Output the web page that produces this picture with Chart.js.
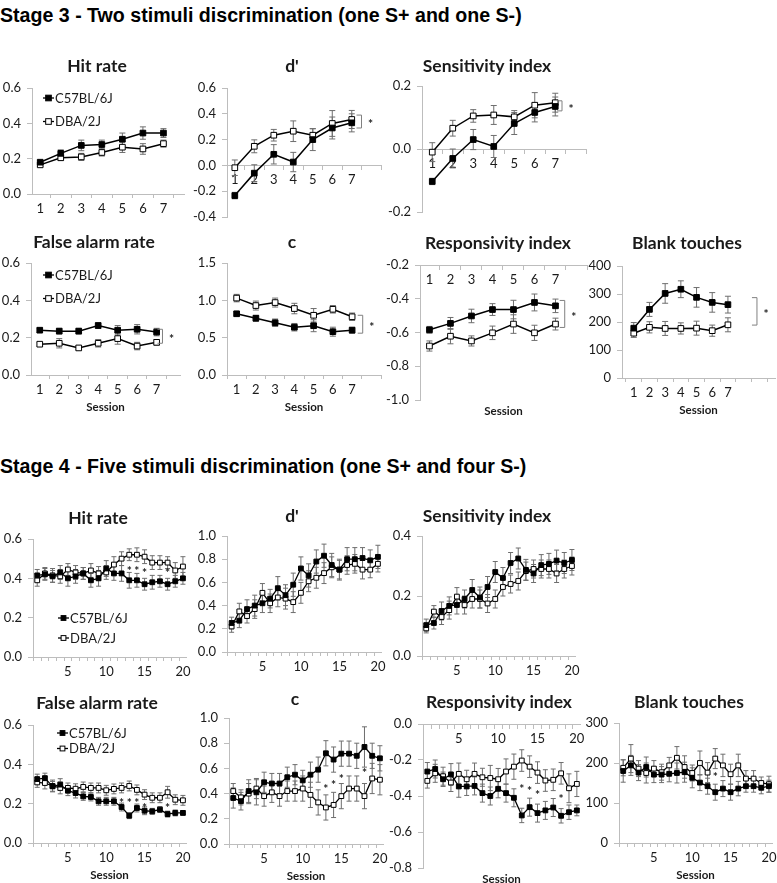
<!DOCTYPE html>
<html>
<head>
<meta charset="utf-8">
<script src="https://cdn.jsdelivr.net/npm/chart.js@4.4.1/dist/chart.umd.min.js"></script>
<style>
  body { margin: 0; width: 777px; height: 883px; position: relative; overflow: hidden; background: #fff; }
  .hdr { position: absolute; left: 0; font: bold 19.6px "Liberation Sans", Arial, sans-serif; line-height: 22px; color: #000; white-space: nowrap; }
  canvas { position: absolute; }
</style>
</head>
<body>
<div class="hdr" style="top:4px">Stage 3 - Two stimuli discrimination (one S+ and one S-)</div>
<div class="hdr" style="top:455px">Stage 4 - Five stimuli discrimination (one S+ and four S-)</div>
<script>
// sessions and strains
const sessions3 = [1, 2, 3, 4, 5, 6, 7];
const sessions4 = [1, 2, 3, 4, 5, 6, 7, 8, 9, 10, 11, 12, 13, 14, 15, 16, 17, 18, 19, 20];
const strainNames = ['C57BL/6J', 'DBA/2J'];

// tick labels
const yTicksRate = [0, 0.2, 0.4, 0.6];
const yTicksD3 = [-0.4, -0.2, 0, 0.2, 0.4, 0.6];
const yTicksSens3 = [-0.2, 0, 0.2];
const yTicksC3 = [0, 0.5, 1, 1.5];
const yTicksResp3 = [-1, -0.8, -0.6, -0.4, -0.2];
const yTicksBlank3 = [0, 100, 200, 300, 400];
const yTicksUnit = [0, 0.2, 0.4, 0.6, 0.8, 1];
const yTicksSens4 = [0, 0.2, 0.4];
const yTicksResp4 = [-0.8, -0.6, -0.4, -0.2, 0];
const yTicksBlank4 = [0, 100, 200, 300];
const xLabels3 = [1, 2, 3, 4, 5, 6, 7];
const xLabels4 = [5, 10, 15, 20];

// ---- Stage 3 (mean, sem) ----
const hit3C57 = [0.18, 0.23, 0.275, 0.28, 0.31, 0.345, 0.345];
const hit3C57Sem = [0.01, 0.02, 0.03, 0.025, 0.035, 0.035, 0.025];
const hit3DBA = [0.165, 0.205, 0.21, 0.235, 0.265, 0.255, 0.285];
const hit3DBASem = [0.01, 0.015, 0.02, 0.02, 0.03, 0.03, 0.02];

const d3C57 = [-0.234, -0.06, 0.086, 0.026, 0.2, 0.29, 0.33];
const d3C57Sem = [0.025, 0.065, 0.075, 0.075, 0.085, 0.085, 0.07];
const d3DBA = [-0.018, 0.148, 0.234, 0.265, 0.234, 0.325, 0.356];
const d3DBASem = [0.06, 0.05, 0.045, 0.08, 0.05, 0.1, 0.07];

const sens3C57 = [-0.103, -0.03, 0.03, 0.008, 0.081, 0.116, 0.135];
const sens3C57Sem = [0.01, 0.03, 0.032, 0.035, 0.035, 0.03, 0.03];
const sens3DBA = [-0.01, 0.066, 0.105, 0.108, 0.102, 0.139, 0.147];
const sens3DBASem = [0.03, 0.025, 0.02, 0.03, 0.02, 0.04, 0.03];

const fa3C57 = [0.24, 0.235, 0.235, 0.265, 0.24, 0.245, 0.23];
const fa3C57Sem = [0.012, 0.015, 0.015, 0.015, 0.025, 0.025, 0.02];
const fa3DBA = [0.165, 0.17, 0.145, 0.17, 0.195, 0.155, 0.175];
const fa3DBASem = [0.01, 0.025, 0.01, 0.02, 0.03, 0.02, 0.015];

const c3C57 = [0.82, 0.76, 0.70, 0.64, 0.66, 0.58, 0.60];
const c3C57Sem = [0.03, 0.04, 0.05, 0.05, 0.08, 0.06, 0.04];
const c3DBA = [1.03, 0.93, 0.97, 0.89, 0.80, 0.88, 0.78];
const c3DBASem = [0.05, 0.06, 0.06, 0.07, 0.09, 0.05, 0.05];

const resp3C57 = [-0.584, -0.546, -0.502, -0.464, -0.464, -0.422, -0.442];
const resp3C57Sem = [0.02, 0.035, 0.04, 0.035, 0.055, 0.05, 0.04];
const resp3DBA = [-0.68, -0.622, -0.65, -0.602, -0.55, -0.602, -0.55];
const resp3DBASem = [0.03, 0.045, 0.03, 0.04, 0.055, 0.045, 0.035];

const blank3C57 = [178, 245, 302, 317, 288, 270, 262];
const blank3C57Sem = [20, 25, 35, 30, 35, 35, 30];
const blank3DBA = [160, 181, 177, 177, 178, 169, 190];
const blank3DBASem = [15, 20, 25, 20, 25, 20, 25];

// significance brackets: [session pos, top, bottom]
const d3Bracket = [7.5, 0.39, 0.29];
const sens3Bracket = [7.33, 0.153, 0.121];
const fa3Bracket = [7.3, 0.245, 0.17];
const c3Bracket = [7.55, 0.8, 0.56];
const resp3Bracket = [7.44, -0.41, -0.57];
const blank3Bracket = [8.85, 287, 189];

// ---- Stage 4 (mean, sem) ----
const hit4C57 = [0.415, 0.42, 0.41, 0.43, 0.40, 0.41, 0.425, 0.39, 0.40, 0.45, 0.425, 0.425, 0.39, 0.39, 0.37, 0.38, 0.385, 0.37, 0.385, 0.40];
const hit4C57Sem = [0.03, 0.03, 0.03, 0.035, 0.04, 0.035, 0.03, 0.035, 0.04, 0.04, 0.035, 0.04, 0.04, 0.035, 0.03, 0.035, 0.03, 0.03, 0.03, 0.03];
const hit4DBA = [0.39, 0.425, 0.415, 0.41, 0.445, 0.43, 0.425, 0.44, 0.425, 0.43, 0.47, 0.50, 0.52, 0.52, 0.51, 0.48, 0.48, 0.48, 0.44, 0.46];
const hit4DBASem = [0.03, 0.03, 0.035, 0.035, 0.03, 0.035, 0.03, 0.035, 0.035, 0.035, 0.04, 0.035, 0.03, 0.035, 0.035, 0.035, 0.035, 0.03, 0.04, 0.05];

const d4C57 = [0.25, 0.27, 0.37, 0.40, 0.42, 0.46, 0.55, 0.49, 0.58, 0.72, 0.66, 0.78, 0.83, 0.75, 0.71, 0.80, 0.80, 0.81, 0.79, 0.82];
const d4C57Sem = [0.05, 0.06, 0.08, 0.09, 0.08, 0.08, 0.1, 0.09, 0.1, 0.1, 0.1, 0.1, 0.1, 0.1, 0.09, 0.1, 0.1, 0.09, 0.09, 0.1];
const d4DBA = [0.22, 0.35, 0.31, 0.37, 0.51, 0.42, 0.47, 0.46, 0.43, 0.51, 0.61, 0.64, 0.68, 0.73, 0.71, 0.75, 0.76, 0.71, 0.71, 0.76];
const d4DBASem = [0.05, 0.07, 0.06, 0.08, 0.08, 0.08, 0.08, 0.09, 0.09, 0.09, 0.09, 0.09, 0.09, 0.09, 0.08, 0.08, 0.08, 0.08, 0.07, 0.07];

const sens4C57 = [0.103, 0.11, 0.15, 0.167, 0.17, 0.19, 0.22, 0.195, 0.23, 0.28, 0.26, 0.31, 0.325, 0.287, 0.275, 0.303, 0.307, 0.318, 0.31, 0.32];
const sens4C57Sem = [0.02, 0.02, 0.03, 0.03, 0.03, 0.03, 0.035, 0.035, 0.035, 0.035, 0.035, 0.035, 0.035, 0.035, 0.03, 0.035, 0.035, 0.035, 0.035, 0.035];
const sens4DBA = [0.092, 0.148, 0.13, 0.153, 0.198, 0.17, 0.19, 0.19, 0.175, 0.19, 0.23, 0.24, 0.25, 0.283, 0.29, 0.29, 0.29, 0.275, 0.29, 0.30];
const sens4DBASem = [0.015, 0.02, 0.025, 0.03, 0.03, 0.03, 0.03, 0.03, 0.03, 0.03, 0.03, 0.03, 0.03, 0.03, 0.03, 0.03, 0.03, 0.03, 0.03, 0.03];

const fa4C57 = [0.325, 0.33, 0.288, 0.297, 0.266, 0.254, 0.237, 0.234, 0.212, 0.212, 0.212, 0.183, 0.139, 0.178, 0.164, 0.161, 0.17, 0.147, 0.153, 0.153];
const fa4C57Sem = [0.025, 0.025, 0.025, 0.03, 0.025, 0.025, 0.02, 0.02, 0.02, 0.02, 0.02, 0.02, 0.015, 0.02, 0.02, 0.015, 0.015, 0.015, 0.015, 0.01];
const fa4DBA = [0.308, 0.305, 0.29, 0.28, 0.28, 0.276, 0.285, 0.28, 0.28, 0.268, 0.275, 0.28, 0.29, 0.27, 0.246, 0.23, 0.23, 0.258, 0.22, 0.217];
const fa4DBASem = [0.025, 0.03, 0.03, 0.03, 0.025, 0.025, 0.025, 0.025, 0.025, 0.025, 0.025, 0.025, 0.025, 0.025, 0.025, 0.025, 0.025, 0.03, 0.025, 0.025];

const c4C57 = [0.365, 0.34, 0.42, 0.41, 0.49, 0.48, 0.48, 0.53, 0.55, 0.505, 0.55, 0.59, 0.72, 0.67, 0.717, 0.717, 0.70, 0.77, 0.70, 0.68];
const c4C57Sem = [0.08, 0.07, 0.09, 0.1, 0.08, 0.08, 0.08, 0.08, 0.08, 0.08, 0.1, 0.1, 0.1, 0.1, 0.1, 0.1, 0.1, 0.16, 0.1, 0.1];
const c4DBA = [0.42, 0.37, 0.40, 0.44, 0.38, 0.41, 0.38, 0.42, 0.42, 0.44, 0.39, 0.33, 0.29, 0.31, 0.38, 0.44, 0.44, 0.38, 0.52, 0.51];
const c4DBASem = [0.06, 0.06, 0.08, 0.08, 0.08, 0.08, 0.08, 0.08, 0.08, 0.1, 0.1, 0.1, 0.1, 0.1, 0.1, 0.1, 0.1, 0.1, 0.12, 0.12];

const resp4C57 = [-0.264, -0.25, -0.307, -0.28, -0.347, -0.347, -0.344, -0.384, -0.40, -0.36, -0.384, -0.41, -0.508, -0.462, -0.495, -0.48, -0.464, -0.51, -0.49, -0.48];
const resp4C57Sem = [0.05, 0.05, 0.04, 0.06, 0.06, 0.05, 0.05, 0.05, 0.05, 0.05, 0.05, 0.05, 0.04, 0.05, 0.05, 0.05, 0.05, 0.04, 0.04, 0.03];
const resp4DBA = [-0.316, -0.274, -0.29, -0.325, -0.277, -0.307, -0.277, -0.296, -0.30, -0.307, -0.264, -0.237, -0.203, -0.237, -0.27, -0.314, -0.31, -0.274, -0.357, -0.333];
const resp4DBASem = [0.04, 0.05, 0.05, 0.05, 0.06, 0.05, 0.06, 0.05, 0.07, 0.06, 0.07, 0.07, 0.06, 0.06, 0.06, 0.06, 0.06, 0.06, 0.08, 0.07];

const blank4C57 = [180, 194, 176, 190, 171, 171, 173, 175, 177, 163, 151, 142, 127, 136, 127, 136, 142, 142, 138, 142];
const blank4C57Sem = [28, 25, 20, 25, 20, 20, 20, 25, 25, 25, 20, 20, 20, 20, 20, 18, 15, 15, 15, 15];
const blank4DBA = [188, 211, 186, 175, 186, 177, 194, 213, 190, 175, 200, 176, 211, 194, 172, 194, 161, 161, 150, 147];
const blank4DBASem = [20, 35, 20, 25, 20, 20, 20, 28, 28, 20, 30, 25, 25, 28, 25, 28, 20, 20, 15, 20];

// asterisks (session, value)
const hit4StarSessions = [13, 14, 15, 18];
const hit4StarY = [0.452, 0.452, 0.44, 0.44];
const fa4StarSessions = [12, 13, 14, 15, 18];
const fa4StarY = [0.22, 0.22, 0.22, 0.195, 0.195];
const c4StarSessions = [13, 14, 15, 18];
const c4StarY = [0.46, 0.49, 0.54, 0.59];
const resp4StarSessions = [13, 14, 15, 18];
const resp4StarY = [-0.347, -0.357, -0.38, -0.40];
const blank4StarSessions = [13];
const blank4StarY = [172];

const AXIS = '#bdbdbd';
const TXT = '#1a1a1a';

// error bars, brackets, stars, titles and legends
const extras = {
  id: 'extras',
  beforeDatasetsDraw(chart, args, o) {
    const ctx = chart.ctx, ys = chart.scales.y;
    ctx.save();
    ctx.strokeStyle = '#6e6e6e';
    ctx.lineWidth = 1;
    chart.data.datasets.forEach((ds, i) => {
      chart.getDatasetMeta(i).data.forEach((pt, j) => {
        const v = ds.data[j].y, e = ds.sem[j];
        const y1 = ys.getPixelForValue(v + e), y2 = ys.getPixelForValue(v - e);
        ctx.beginPath();
        ctx.moveTo(pt.x, y1); ctx.lineTo(pt.x, y2);
        ctx.moveTo(pt.x - o.cap, y1); ctx.lineTo(pt.x + o.cap, y1);
        ctx.moveTo(pt.x - o.cap, y2); ctx.lineTo(pt.x + o.cap, y2);
        ctx.stroke();
      });
    });
    ctx.restore();
  },
  afterDraw(chart, args, o) {
    const ctx = chart.ctx, xs = chart.scales.x, ys = chart.scales.y, a = chart.chartArea;
    ctx.save();
    ctx.fillStyle = TXT;
    ctx.textAlign = 'center';
    ctx.textBaseline = 'middle';
    ctx.font = 'bold 17.5px Lato';
    ctx.fillText(o.title, o.titleAt[0] - o.ox, o.titleAt[1] - o.oy);
    if (o.sessionY) {
      ctx.font = 'bold 11.5px Lato';
      ctx.fillText('Session', (a.left + a.right) / 2, o.sessionY - o.oy);
    }
    if (o.bracket) {
      const bx = xs.getPixelForValue(o.bracket[0]);
      const y1 = ys.getPixelForValue(o.bracket[1]), y2 = ys.getPixelForValue(o.bracket[2]);
      ctx.strokeStyle = '#808080';
      ctx.lineWidth = 1;
      ctx.beginPath();
      ctx.moveTo(bx - 5, y1); ctx.lineTo(bx, y1); ctx.lineTo(bx, y2); ctx.lineTo(bx - 5, y2);
      ctx.stroke();
      ctx.font = 'bold 12px Lato';
      ctx.fillText('*', bx + 9, (y1 + y2) / 2 + 3);
    }
    if (o.stars) {
      ctx.font = 'bold 12px Lato';
      o.stars[0].forEach((s, i) => {
        ctx.fillText('*', xs.getPixelForValue(s), ys.getPixelForValue(o.stars[1][i]) + 3);
      });
    }
    if (o.legend) {
      const [lx, ly, dy] = o.legend;
      ctx.font = '13px Lato';
      ctx.textAlign = 'left';
      strainNames.forEach((name, i) => {
        const x0 = lx - o.ox, y = ly + i * dy - o.oy, m = o.marker;
        ctx.strokeStyle = '#000';
        ctx.lineWidth = 1.3;
        ctx.beginPath(); ctx.moveTo(x0, y); ctx.lineTo(x0 + 11, y); ctx.stroke();
        ctx.fillStyle = i === 0 ? '#000' : '#fff';
        ctx.lineWidth = 1;
        ctx.fillRect(x0 + 5.5 - m / 2, y - m / 2, m, m);
        ctx.strokeRect(x0 + 5.5 - m / 2, y - m / 2, m, m);
        ctx.fillStyle = TXT;
        ctx.fillText(name, x0 + 12, y + 0.5);
      });
    }
    ctx.restore();
  }
};

const panels = [
  { title: 'Hit rate', titleAt: [97, 66], plot: [32, 88, 184, 194], xr: [0.6, 8.0], yt: yTicksRate, dec: 1,
    xs: sessions3, c57: hit3C57, c57Sem: hit3C57Sem, dba: hit3DBA, dbaSem: hit3DBASem, legend: [43, 98, 23.5] },
  { title: "d'", titleAt: [292, 66], plot: [227, 88, 381, 217], xr: [0.6, 8.5], yt: yTicksD3, dec: 1, xAt: 0,
    xs: sessions3, c57: d3C57, c57Sem: d3C57Sem, dba: d3DBA, dbaSem: d3DBASem, bracket: d3Bracket },
  { title: 'Sensitivity index', titleAt: [487, 66], plot: [422, 86, 586, 212], xr: [0.5, 8.5], yt: yTicksSens3, dec: 1, xAt: 0,
    xs: sessions3, c57: sens3C57, c57Sem: sens3C57Sem, dba: sens3DBA, dbaSem: sens3DBASem, bracket: sens3Bracket },
  { title: 'False alarm rate', titleAt: [94, 242], plot: [31, 263, 180, 375], xr: [0.55, 8.2], yt: yTicksRate, dec: 1,
    xs: sessions3, c57: fa3C57, c57Sem: fa3C57Sem, dba: fa3DBA, dbaSem: fa3DBASem, legend: [43, 275, 23.5], sessionY: 407, bracket: fa3Bracket },
  { title: 'c', titleAt: [292, 242], plot: [227, 263, 381, 375], xr: [0.5, 8.5], yt: yTicksC3, dec: 1,
    xs: sessions3, c57: c3C57, c57Sem: c3C57Sem, dba: c3DBA, dbaSem: c3DBASem, sessionY: 407, bracket: c3Bracket },
  { title: 'Responsivity index', titleAt: [498, 243], plot: [420, 265, 587, 400], xr: [0.55, 8.5], yt: yTicksResp3, dec: 1, xAt: -0.2,
    xs: sessions3, c57: resp3C57, c57Sem: resp3C57Sem, dba: resp3DBA, dbaSem: resp3DBASem, sessionY: 411, bracket: resp3Bracket },
  { title: 'Blank touches', titleAt: [687, 243], plot: [622, 266, 775, 378], xr: [0.25, 10], yt: yTicksBlank3, dec: 0,
    xs: sessions3, c57: blank3C57, c57Sem: blank3C57Sem, dba: blank3DBA, dbaSem: blank3DBASem, sessionY: 410, bracket: blank3Bracket },

  { title: 'Hit rate', titleAt: [98, 518], plot: [33, 539, 186, 657], xr: [0.45, 20.4], yt: yTicksRate, dec: 1,
    xs: sessions4, c57: hit4C57, c57Sem: hit4C57Sem, dba: hit4DBA, dbaSem: hit4DBASem, legend: [58, 618, 20],
    stars: [hit4StarSessions, hit4StarY] },
  { title: "d'", titleAt: [292, 516], plot: [227, 536, 381, 652], xr: [0.4, 20.4], yt: yTicksUnit, dec: 1,
    xs: sessions4, c57: d4C57, c57Sem: d4C57Sem, dba: d4DBA, dbaSem: d4DBASem },
  { title: 'Sensitivity index', titleAt: [487, 516], plot: [422, 536, 575, 656], xr: [0.45, 20.4], yt: yTicksSens4, dec: 1,
    xs: sessions4, c57: sens4C57, c57Sem: sens4C57Sem, dba: sens4DBA, dbaSem: sens4DBASem },
  { title: 'False alarm rate', titleAt: [97, 703], plot: [33, 725, 186, 843], xr: [0.45, 20.4], yt: yTicksRate, dec: 1,
    xs: sessions4, c57: fa4C57, c57Sem: fa4C57Sem, dba: fa4DBA, dbaSem: fa4DBASem, legend: [57, 733, 15.5], sessionY: 875,
    stars: [fa4StarSessions, fa4StarY] },
  { title: 'c', titleAt: [295, 699], plot: [229, 718, 383, 844], xr: [0.45, 20.4], yt: yTicksUnit, dec: 1,
    xs: sessions4, c57: c4C57, c57Sem: c4C57Sem, dba: c4DBA, dbaSem: c4DBASem, sessionY: 876,
    stars: [c4StarSessions, c4StarY] },
  { title: 'Responsivity index', titleAt: [499, 702], plot: [423, 724, 580, 868], xr: [0.45, 20.4], yt: yTicksResp4, dec: 1, xAt: 0,
    xs: sessions4, c57: resp4C57, c57Sem: resp4C57Sem, dba: resp4DBA, dbaSem: resp4DBASem, sessionY: 879,
    stars: [resp4StarSessions, resp4StarY] },
  { title: 'Blank touches', titleAt: [689, 702], plot: [619, 723, 772, 843], xr: [0.45, 20.4], yt: yTicksBlank4, dec: 0,
    xs: sessions4, c57: blank4C57, c57Sem: blank4C57Sem, dba: blank4DBA, dbaSem: blank4DBASem, sessionY: 875,
    stars: [blank4StarSessions, blank4StarY] }
];

function buildPanel(p) {
  const [L, T, R, B] = p.plot;
  const ox = L - 40, oy = T - 50;
  const cv = document.createElement('canvas');
  cv.width = R - L + 80;
  cv.height = B - T + 95;
  cv.style.left = ox + 'px';
  cv.style.top = oy + 'px';
  document.body.appendChild(cv);

  const stage4 = p.xs.length > 7;
  const labels = stage4 ? xLabels4 : xLabels3;
  const atBottom = p.xAt === undefined;
  const radius = stage4 ? 3.4 : 4.0;
  const lw = stage4 ? 1.3 : 1.5;

  // tick marks between sessions, label ticks at sessions
  const xTicks = [];
  for (let v = Math.ceil(p.xr[0] * 2) / 2; v <= p.xr[1]; v += 0.5) {
    if (v % 1 !== 0 || labels.includes(v)) xTicks.push(v);
  }

  const series = (vals, sem, fill) => ({
    data: p.xs.map((x, i) => ({ x, y: vals[i] })),
    sem,
    borderColor: '#000',
    borderWidth: lw,
    backgroundColor: fill,
    pointStyle: 'rect',
    pointRadius: radius,
    pointBackgroundColor: fill,
    pointBorderColor: '#000',
    pointBorderWidth: 1,
    tension: 0,
    clip: false
  });

  new Chart(cv.getContext('2d'), {
    type: 'line',
    data: { datasets: [series(p.c57, p.c57Sem, '#000'), series(p.dba, p.dbaSem, '#fff')] },
    options: {
      responsive: false,
      animation: false,
      events: [],
      layout: { autoPadding: false, padding: { left: 0, top: 50, right: 40, bottom: atBottom ? 23 : 45 } },
      plugins: {
        legend: { display: false },
        tooltip: { enabled: false },
        extras: {
          ox, oy, title: p.title, titleAt: p.titleAt, sessionY: p.sessionY, bracket: p.bracket,
          stars: p.stars, legend: p.legend, cap: stage4 ? 2.5 : 3, marker: radius * 1.41
        }
      },
      scales: {
        x: {
          type: 'linear',
          min: p.xr[0],
          max: p.xr[1],
          position: atBottom ? 'bottom' : { y: p.xAt },
          afterFit: s => { if (atBottom) s.height = 22; },
          afterBuildTicks: s => { s.ticks = xTicks.map(v => ({ value: v })); },
          grid: {
            display: true, drawOnChartArea: false, tickLength: 4,
            tickColor: c => (c.tick && c.tick.value % 1 === 0) ? 'rgba(0,0,0,0)' : AXIS
          },
          border: { display: true, color: AXIS, width: 1 },
          ticks: {
            autoSkip: false, maxRotation: 0, padding: 3, color: TXT, font: { family: 'Lato', size: 13 },
            callback: v => labels.includes(v) ? String(v) : ''
          }
        },
        y: {
          type: 'linear',
          min: p.yt[0],
          max: p.yt[p.yt.length - 1],
          afterFit: s => { s.width = 40; },
          afterBuildTicks: s => { s.ticks = p.yt.map(v => ({ value: v })); },
          grid: { display: true, drawOnChartArea: false, tickLength: 5, color: AXIS, tickColor: AXIS },
          border: { display: true, color: AXIS, width: 1 },
          ticks: { padding: 6, color: TXT, font: { family: 'Lato', size: 13 }, callback: v => v.toFixed(p.dec) }
        }
      }
    },
    plugins: [extras]
  });
}

panels.forEach(buildPanel);
</script>
</body>
</html>
